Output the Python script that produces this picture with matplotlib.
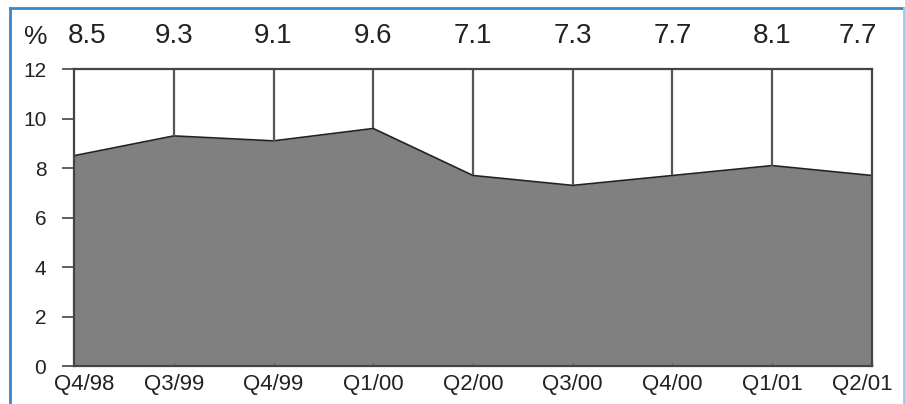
import matplotlib.pyplot as plt
from matplotlib.lines import Line2D
from matplotlib.transforms import blended_transform_factory, ScaledTranslation

# ------------------------
# Data
# ------------------------
quarters = ["Q4/98", "Q3/99", "Q4/99", "Q1/00", "Q2/00", "Q3/00", "Q4/00", "Q1/01", "Q2/01"]
rates = [8.5, 9.3, 9.1, 9.6, 7.7, 7.3, 7.7, 8.1, 7.7]
top_labels = ["8.5", "9.3", "9.1", "9.6", "7.1", "7.3", "7.7", "8.1", "7.7"]
y_ticks = [0, 2, 4, 6, 8, 10, 12]

plt.rcParams["font.family"] = ["Liberation Sans", "DejaVu Sans"]

fig = plt.figure(figsize=(9.05, 4.04), dpi=100)
ax = fig.add_axes([0.0818, 0.094, 0.8817, 0.735])

x = list(range(len(quarters)))
ax.fill_between(x, rates, 0, color="#808080", linewidth=0)
ax.plot(x, rates, color="#222222", linewidth=1.2)

# vertical dividers from top down to the area
ax.vlines(x[1:-1], rates[1:-1], 12, color="#555555", linewidth=1.6)

ax.set_xlim(0, len(quarters) - 1)
ax.set_ylim(0, 12)
ax.set_yticks(y_ticks)
ax.set_xticks(x)
ax.set_xticklabels(quarters)

for side in ["left", "right", "top", "bottom"]:
    ax.spines[side].set_color("#444444")
    ax.spines[side].set_linewidth(1.6)

ax.tick_params(axis="y", direction="out", length=9, width=1.2, color="#444444",
               labelsize=15, pad=11, labelcolor="#222222")
ax.tick_params(axis="x", direction="in", length=3, width=1, color="#666666",
               labelsize=16, pad=6, labelcolor="#222222")
# end labels are pulled inward (about 10 px)
xl = ax.get_xticklabels()
xl[0].set_transform(xl[0].get_transform() + ScaledTranslation(0.10, 0, fig.dpi_scale_trans))
xl[-1].set_transform(xl[-1].get_transform() + ScaledTranslation(-0.10, 0, fig.dpi_scale_trans))

# value labels on top
trans = blended_transform_factory(ax.transData, ax.transAxes)
for i, lab in enumerate(top_labels):
    xi = i
    if i == 0:
        xi = 0.13
    elif i == len(top_labels) - 1:
        xi = i - 0.14
    ax.text(xi, 1.11, lab, transform=trans, ha="center", va="center",
            fontsize=20, color="#222222")
fig.text(0.04, 0.908, "%", ha="center", va="center", fontsize=19, color="#222222")

# blue frame around the figure
frame_color = "#3a86c8"
fig.add_artist(Line2D([0.011, 0.011], [0, 0.981], transform=fig.transFigure,
                      color=frame_color, linewidth=2))
fig.add_artist(Line2D([0.011, 0.999], [0.981, 0.981], transform=fig.transFigure,
                      color=frame_color, linewidth=2))
fig.add_artist(Line2D([0.999, 0.999], [0, 0.981], transform=fig.transFigure,
                      color="#9cc8ec", linewidth=2))

fig.savefig("out.png", dpi=100)
